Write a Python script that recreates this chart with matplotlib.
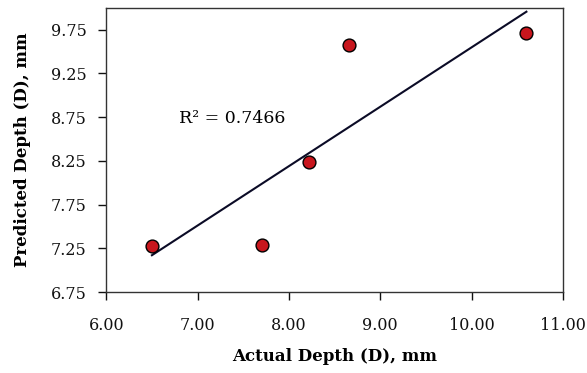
import matplotlib.pyplot as plt
import numpy as np

# data
actual = [6.50, 7.70, 8.22, 8.66, 10.60]
predicted = [7.28, 7.29, 8.24, 9.57, 9.71]
x_ticks = [6.0, 7.0, 8.0, 9.0, 10.0, 11.0]
y_ticks = [6.75, 7.25, 7.75, 8.25, 8.75, 9.25, 9.75]
r2_label = 'R² = 0.7466'

plt.rcParams['font.family'] = ['DejaVu Serif']

fig = plt.figure(figsize=(5.87, 3.73), dpi=100)
ax = fig.add_axes([0.181, 0.217, 0.778, 0.762])

# linear trendline
slope, icpt = np.polyfit(actual, predicted, 1)
xs = np.array([min(actual), max(actual)])
ax.plot(xs, slope * xs + icpt, color='#0b0b26', lw=1.5, zorder=2)

ax.scatter(actual, predicted, s=85, color='#c8161d', edgecolor='black',
           linewidth=1.0, zorder=3)

ax.text(6.80, 8.74, r2_label, fontsize=12.5, va='center', ha='left')

ax.set_xlim(6.0, 11.0)
ax.set_ylim(6.75, 10.0)
ax.set_xticks(x_ticks)
ax.set_xticklabels(['%.2f' % v for v in x_ticks])
ax.set_yticks(y_ticks)
ax.set_yticklabels(['%.2f' % v for v in y_ticks])
ax.tick_params(direction='out', length=6, width=1, labelsize=11.5,
               colors='#111111')
ax.tick_params(axis='x', pad=12)
ax.tick_params(axis='y', pad=8)

for sp in ax.spines.values():
    sp.set_color('#333333')
    sp.set_linewidth(1.0)

ax.set_xlabel('Actual Depth (D), mm', fontsize=12, fontweight='bold', labelpad=10)
ax.set_ylabel('Predicted Depth (D), mm', fontsize=12, fontweight='bold', labelpad=14)

fig.savefig('out.png', dpi=100)
